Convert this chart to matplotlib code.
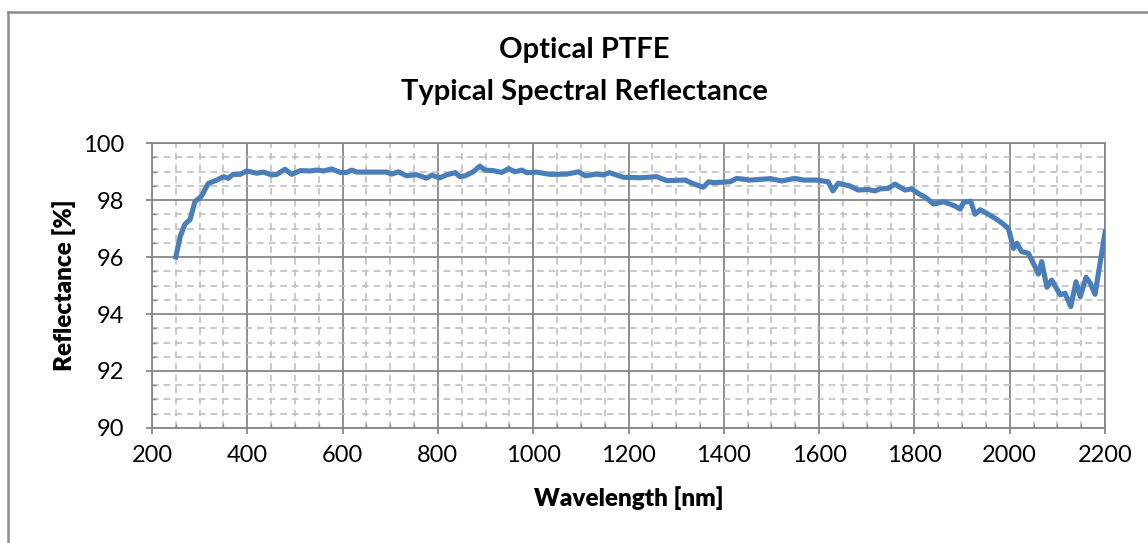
import matplotlib.pyplot as plt
from matplotlib.lines import Line2D
from matplotlib.ticker import MultipleLocator

# reflectance curve
wavelength = [250, 259, 269, 280, 290, 304, 318, 336, 350, 360, 370, 385, 399, 420, 434,
              451, 462, 479, 493, 511, 532, 546, 560, 577, 595, 609, 619, 630, 665, 692,
              703, 717, 734, 755, 776, 787, 804, 818, 836, 846, 857, 874, 888, 899, 916,
              934, 948, 962, 976, 986, 1007, 1035, 1070, 1095, 1109, 1133, 1147, 1160, 1189,
              1224, 1259, 1280, 1319, 1333, 1357, 1368, 1378, 1413, 1427, 1455, 1497, 1522,
              1549, 1567, 1595, 1619, 1629, 1640, 1665, 1682, 1703, 1717, 1728, 1745, 1759,
              1780, 1794, 1808, 1826, 1840, 1861, 1885, 1896, 1903, 1918, 1927, 1938, 1952,
              1969, 1983, 1997, 2008, 2015, 2025, 2039, 2053, 2060, 2067, 2078, 2088, 2106,
              2116, 2128, 2139, 2148, 2160, 2169, 2179, 2200]
reflectance = [96.0, 96.71, 97.15, 97.32, 97.94, 98.14, 98.58, 98.70, 98.82, 98.76, 98.90,
               98.90, 99.02, 98.94, 98.98, 98.88, 98.90, 99.08, 98.90, 99.03, 99.02, 99.05,
               99.02, 99.09, 98.97, 98.97, 99.05, 98.98, 98.98, 98.98, 98.91, 98.99, 98.85,
               98.89, 98.77, 98.87, 98.78, 98.88, 98.96, 98.82, 98.85, 98.99, 99.19, 99.05,
               99.03, 98.97, 99.10, 98.99, 99.05, 98.96, 98.98, 98.90, 98.91, 98.99, 98.85,
               98.91, 98.88, 98.96, 98.80, 98.78, 98.82, 98.68, 98.70, 98.59, 98.45, 98.64,
               98.61, 98.64, 98.76, 98.70, 98.75, 98.67, 98.76, 98.70, 98.70, 98.64, 98.32,
               98.59, 98.49, 98.35, 98.37, 98.32, 98.39, 98.41, 98.56, 98.35, 98.39, 98.23,
               98.06, 97.86, 97.94, 97.79, 97.68, 97.92, 97.96, 97.50, 97.66, 97.53, 97.36,
               97.20, 97.01, 96.30, 96.48, 96.19, 96.13, 95.66, 95.40, 95.84, 94.94, 95.19,
               94.67, 94.73, 94.26, 95.13, 94.61, 95.29, 95.08, 94.69, 96.87]

plt.rcParams['font.family'] = ['Lato', 'DejaVu Sans']

fig = plt.figure(figsize=(11.48, 5.43), dpi=100)
ax = fig.add_axes([0.1324, 0.2118, 0.8302, 0.5248])

ax.plot(wavelength, reflectance, color='#4a7ebb', lw=3.7, solid_joinstyle='round', zorder=3)

ax.set_xlim(200, 2200)
ax.set_ylim(90, 100)
ax.xaxis.set_major_locator(MultipleLocator(200))
ax.xaxis.set_minor_locator(MultipleLocator(50))
ax.yaxis.set_major_locator(MultipleLocator(2))
ax.yaxis.set_minor_locator(MultipleLocator(0.5))

ax.grid(which='major', color='#878787', lw=1.3)
ax.grid(which='minor', color='#c0c0c0', lw=1.2, ls=(0, (4, 3)))
ax.set_axisbelow(True)
for s in ax.spines.values():
    s.set_color('#878787')
    s.set_linewidth(1.3)

ax.tick_params(which='major', direction='out', length=4, color='#878787', width=1.3,
               labelsize=17)
ax.tick_params(which='minor', direction='in', length=3, color='#878787', width=1)
ax.tick_params(axis='y', which='major', pad=16)
ax.tick_params(axis='x', which='major', pad=8)

ax.set_xlabel('Wavelength [nm]', fontsize=17.5, fontweight='heavy', labelpad=15)
ax.set_ylabel('Reflectance [%]', fontsize=17.5, fontweight='heavy', labelpad=5)

fig.text(0.5087, 0.908, 'Optical PTFE', ha='center', va='center', fontsize=21, fontweight='bold')
fig.text(0.5087, 0.831, 'Typical Spectral Reflectance', ha='center', va='center',
         fontsize=21, fontweight='bold')

# outer chart frame (cropped on right and bottom)
fig.add_artist(Line2D([8 / 1148, 8 / 1148], [0, 1 - 12 / 543], color='#8c8c8c', lw=1.8))
fig.add_artist(Line2D([8 / 1148, 1], [1 - 12 / 543, 1 - 12 / 543], color='#8c8c8c', lw=1.8))

fig.savefig('out.png', dpi=100)
